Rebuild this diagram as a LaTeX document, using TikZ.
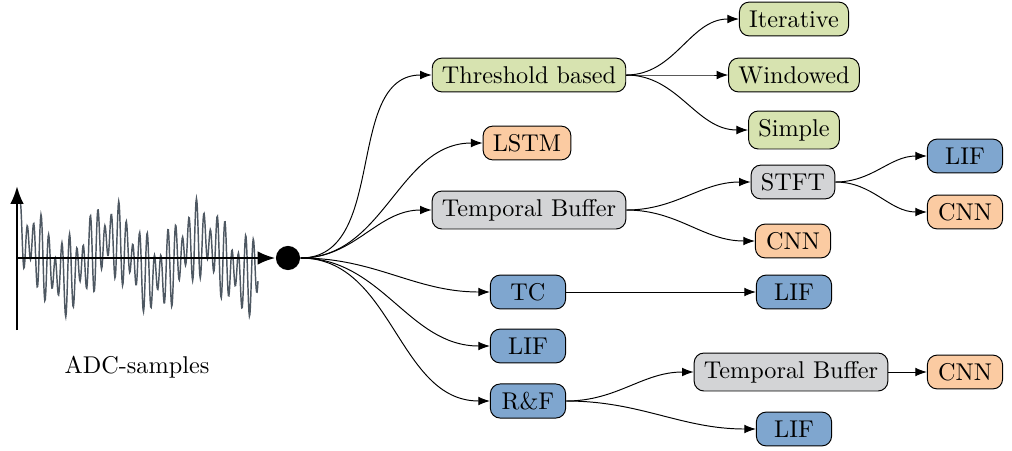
\documentclass[tikz,border=0pt]{standalone}
\usepackage{tikz}
\usetikzlibrary{arrows.meta, positioning}
\definecolor{thrgreen}{RGB}{215,227,176}
\definecolor{annorange}{RGB}{251,203,162}
\definecolor{snnblue}{RGB}{127,166,207}
\definecolor{pregray}{RGB}{211,212,214}
\definecolor{wavegray}{RGB}{78,88,98}

\begin{document}
\begin{tikzpicture}[
    x=0.0145cm, y=-0.0145cm,
    box/.style={draw, rounded corners=4pt, align=center, minimum height=0.49cm, minimum width=1.09cm, inner xsep=4pt},
    thr/.style={box, fill=thrgreen},
    ann/.style={box, fill=annorange},
    snn/.style={box, fill=snnblue},
    pre/.style={box, fill=pregray},
    arrow/.style={-Latex},
    axis/.style={-{Latex[length=2.6mm, width=2mm]}, line width=1.1pt}
]
\useasboundingbox (0,0) rectangle (1012,450);

% input signal
\draw[wavegray, line width=0.6pt] plot[domain=0:238, samples=500]
    ({\x+20}, {258 - 28*sin(51*\x+90) - 14*sin(37*\x+40) - 18*cos(4*\x)});
\coordinate (orig) at (17,258);
\coordinate (ybot) at (17,330);
\coordinate (ytop) at (17,186);
\node[circle, fill, minimum size=0.35cm, inner sep=0pt] (hub) at (288,258) {};
\draw[axis] (ybot) -- (ytop);
\draw[axis] (orig) -- (hub.west);
\node (adc) at (137,367) {ADC-samples};

% first stage
\node[thr] (thresh) at (529,75) {Threshold based};
\node[ann] (lstm) at (527,143) {LSTM};
\node[pre] (buf) at (529,210) {Temporal Buffer};
\node[snn] (tc) at (528,292) {TC};
\node[snn] (lif) at (528,346) {LIF};
\node[snn] (rf) at (528,401) {R\&F};

% second stage
\node[thr] (iter) at (794,19) {Iterative};
\node[thr] (win) at (794,75) {Windowed};
\node[thr] (simple) at (794,130) {Simple};
\node[pre] (stft) at (793,182) {STFT};
\node[ann] (cnnbuf) at (793,241) {CNN};
\node[snn] (liftc) at (794,292) {LIF};
\node[pre] (bufrf) at (791,372) {Temporal Buffer};
\node[snn] (lifrf) at (794,429) {LIF};

% third stage
\node[snn] (lifstft) at (965,156) {LIF};
\node[ann] (cnnstft) at (965,212) {CNN};
\node[ann] (cnnrf) at (965,372) {CNN};

\foreach \t in {thresh, lstm, buf, tc, lif, rf}
    \draw[arrow] (hub.east) to[out=0, in=180] (\t.west);
\foreach \t in {iter, win, simple}
    \draw[arrow] (thresh.east) to[out=0, in=180] (\t.west);
\draw[arrow] (buf.east) to[out=0, in=180] (stft.west);
\draw[arrow] (buf.east) to[out=0, in=180] (cnnbuf.west);
\draw[arrow] (stft.east) to[out=0, in=180] (lifstft.west);
\draw[arrow] (stft.east) to[out=0, in=180] (cnnstft.west);
\draw[arrow] (tc) -- (liftc);
\draw[arrow] (rf.east) to[out=0, in=180] (bufrf.west);
\draw[arrow] (rf.east) to[out=0, in=180] (lifrf.west);
\draw[arrow] (bufrf) -- (cnnrf);
\end{tikzpicture}
\end{document}
